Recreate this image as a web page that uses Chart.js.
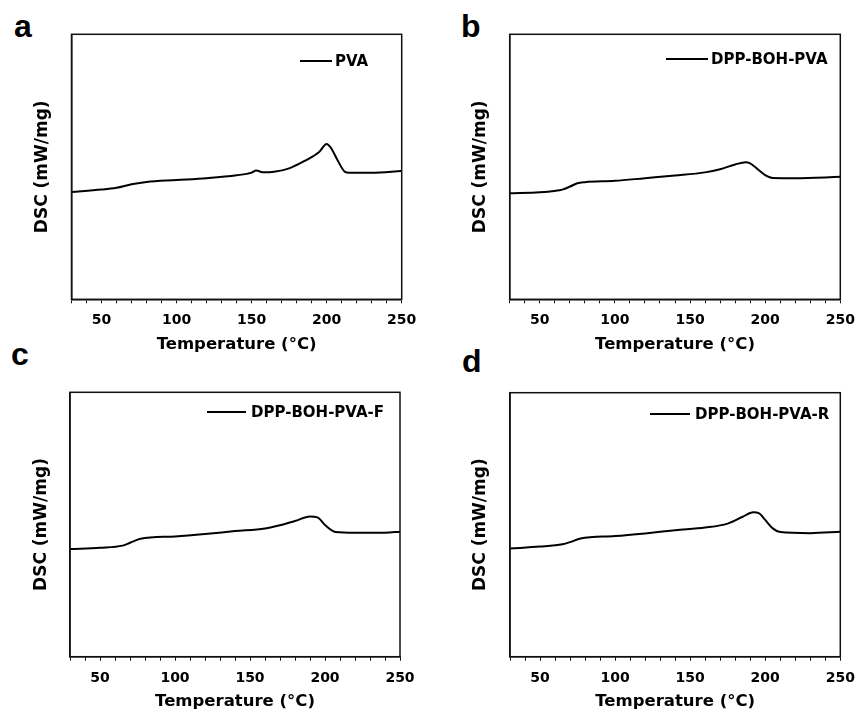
<!DOCTYPE html>
<html><head><meta charset="utf-8">
<script src="https://cdn.jsdelivr.net/npm/chart.js@4.4.0/dist/chart.umd.min.js"></script>
<style>
html,body{margin:0;padding:0;background:#fff;}
body{width:856px;height:712px;position:relative;overflow:hidden;}
canvas{position:absolute;}
.lbl{position:absolute;font:bold 32px "Liberation Sans",Arial,sans-serif;line-height:1;color:#000;}
</style></head><body>
<div class="lbl" style="left:14px;top:10px">a</div>
<div class="lbl" style="left:461px;top:10px">b</div>
<div class="lbl" style="left:11px;top:338px">c</div>
<div class="lbl" style="left:462px;top:345px">d</div>
<canvas id="ca" width="428" height="356" style="left:0;top:0"></canvas>
<canvas id="cb" width="428" height="356" style="left:428px;top:0"></canvas>
<canvas id="cc" width="428" height="356" style="left:0;top:356px"></canvas>
<canvas id="cd" width="428" height="356" style="left:428px;top:356px"></canvas>
<script>
// ---- data ----
const xTitle = 'Temperature (\u00B0C)';
const yTitle = 'DSC (mW/mg)';
const tempLabels = [50, 100, 150, 200, 250];

const labelA = 'PVA';
const tempA = [30,50,60,70,80,100,120,140,150,153,158,165,175,185,195,200,203,207,212,215,230,250];
const dscA  = [40.5,41.4,42.1,43.4,44.3,45.0,45.7,46.8,47.8,48.6,47.9,48.1,49.4,52.1,55.6,58.6,57.0,52.8,48.2,47.8,47.8,48.4];

const labelB = 'DPP-BOH-PVA';
const tempB = [30,50,60,65,70,75,80,100,120,140,160,170,180,187,190,195,200,205,220,250];
const dscB  = [40.0,40.4,40.9,41.4,42.5,43.8,44.2,44.7,45.7,46.7,47.9,49.1,50.9,51.7,51.3,49.1,46.9,45.8,45.7,46.2];

const labelC = 'DPP-BOH-PVA-F';
const tempC = [30,50,65,70,77,100,120,140,160,170,180,190,195,200,207,220,240,250];
const dscC  = [40.7,41.2,42.0,43.1,44.6,45.5,46.4,47.5,48.5,49.7,51.3,53.0,52.7,49.8,47.2,46.9,46.9,47.3];

const labelD = 'DPP-BOH-PVA-R';
const tempD = [30,50,65,70,77,100,120,140,160,175,185,192,196,200,205,210,230,250];
const dscD  = [41.0,41.7,42.6,43.4,44.8,45.7,46.7,47.9,48.9,50.4,53.0,54.7,54.3,51.8,48.6,47.2,46.8,47.3];

// ---- drawing ----
const FONT = '"DejaVu Sans", sans-serif';
const INK = '#111';

const framePlugin = {
  id: 'frame',
  afterDatasetsDraw(chart) {
    const {ctx, chartArea: {left, top, right, bottom}} = chart;
    ctx.save();
    ctx.strokeStyle = INK;
    ctx.lineWidth = 1.5;
    ctx.strokeRect(left, top, right - left, bottom - top);
    ctx.restore();
  }
};

const insideLegend = {
  id: 'insideLegend',
  afterDraw(chart, args, opts) {
    const ctx = chart.ctx;
    const ds = chart.data.datasets[0];
    ctx.save();
    ctx.strokeStyle = '#000';
    ctx.lineWidth = 2;
    ctx.beginPath();
    ctx.moveTo(opts.x1, opts.y);
    ctx.lineTo(opts.x2, opts.y);
    ctx.stroke();
    ctx.fillStyle = '#000';
    ctx.font = 'bold 15px ' + FONT;
    ctx.textBaseline = 'middle';
    ctx.textAlign = 'left';
    ctx.fillText(ds.label, opts.tx, opts.y + 1);
    ctx.restore();
  }
};

function makePanel(id, temps, vals, label, g) {
  const W = 428, H = 356, xH = 55;
  const pts = temps.map((t, i) => ({x: t, y: vals[i]}));
  return new Chart(document.getElementById(id), {
    type: 'line',
    data: { datasets: [{ label: label, data: pts, borderColor: '#000', borderWidth: 2,
      pointRadius: 0, fill: false, tension: 0.4, cubicInterpolationMode: 'monotone' }] },
    options: {
      responsive: false, animation: false, devicePixelRatio: 1,
      layout: { padding: { left: 0, top: g.t, right: W - g.r, bottom: H - g.b - xH } },
      plugins: { legend: { display: false }, tooltip: { enabled: false },
        insideLegend: g.leg },
      scales: {
        x: {
          type: 'linear', min: 30, max: 250,
          afterFit(s) { s.height = xH; s.paddingLeft = 0; s.paddingRight = 0; },
          border: { display: true, color: INK, width: 1.5 },
          grid: { display: true, drawOnChartArea: false, drawTicks: true, tickLength: 4,
            tickColor: INK, tickWidth: 1 },
          ticks: { stepSize: 10, autoSkip: false, maxRotation: 0, padding: 9, color: '#000',
            font: { family: FONT, size: 14, weight: 'bold' },
            callback: v => tempLabels.includes(v) ? String(v) : '' },
          title: { display: true, text: xTitle, color: '#000',
            font: { family: FONT, size: 16.5, weight: 'bold', lineHeight: 1 },
            padding: { top: 0, bottom: 1.5 } }
        },
        y: {
          min: 0, max: 100,
          afterFit(s) { s.width = g.l; s.paddingTop = 0; s.paddingBottom = 0; },
          border: { display: true, color: INK, width: 1.5 },
          grid: { display: false },
          ticks: { display: false },
          title: { display: true, text: yTitle, color: '#000',
            font: { family: FONT, size: 17, weight: 'bold', lineHeight: 1 },
            padding: { top: g.yt - 8.5, bottom: 0 } }
        }
      }
    },
    plugins: [framePlugin, insideLegend]
  });
}

makePanel('ca', tempA, dscA, labelA, { l: 71.5, t: 34.3, r: 401.7, b: 299.3, yt: 43,
  leg: { x1: 300, x2: 332, tx: 335, y: 61 } });
makePanel('cb', tempB, dscB, labelB, { l: 81.7, t: 34.3, r: 412.3, b: 299.3, yt: 52.5,
  leg: { x1: 238, x2: 280, tx: 283, y: 59 } });
makePanel('cc', tempC, dscC, labelC, { l: 70, t: 36.3, r: 400, b: 300.7, yt: 42,
  leg: { x1: 207, x2: 246, tx: 251, y: 56 } });
makePanel('cd', tempD, dscD, labelD, { l: 82, t: 36.7, r: 412.3, b: 300.7, yt: 53,
  leg: { x1: 222, x2: 262, tx: 267, y: 58 } });
</script>
</body></html>
